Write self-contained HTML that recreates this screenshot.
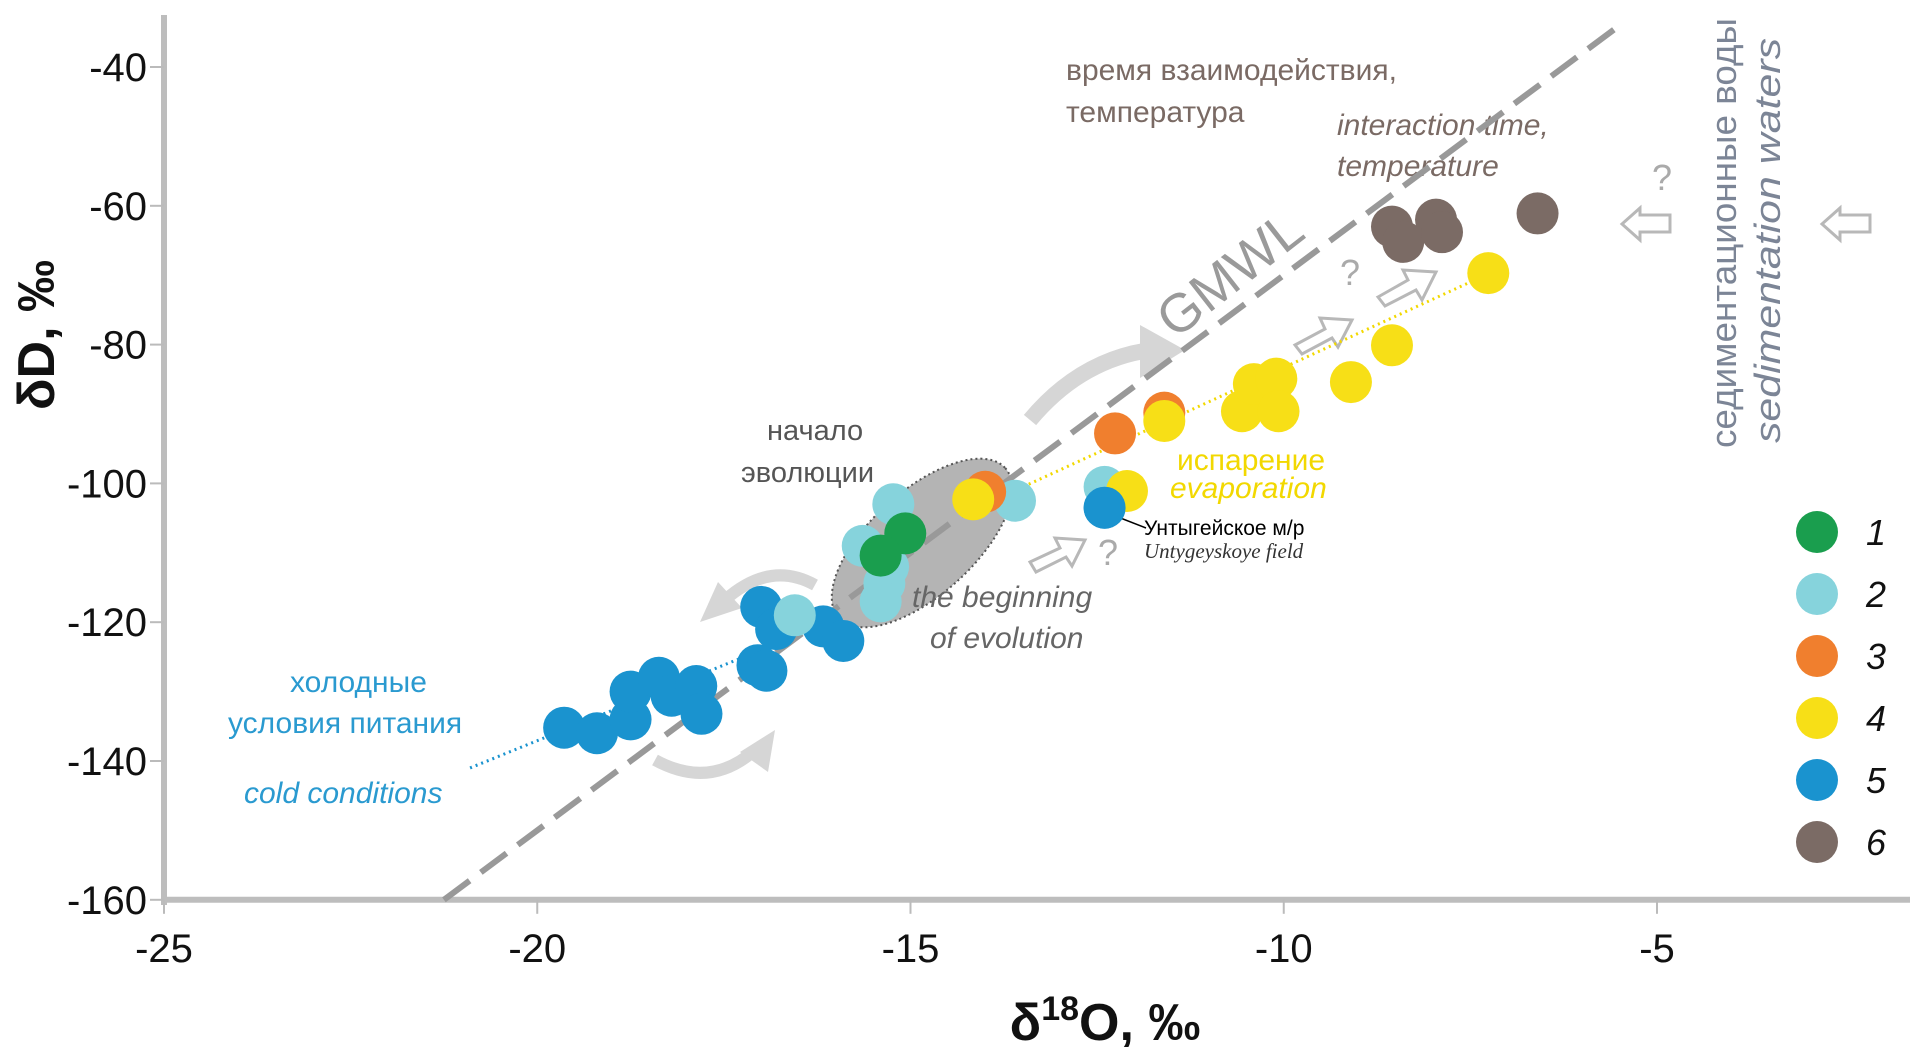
<!DOCTYPE html>
<html><head><meta charset="utf-8">
<style>
html,body{margin:0;padding:0;background:#fff;}
svg{display:block;font-family:"Liberation Sans",sans-serif;}
</style></head>
<body>
<svg id="chart" width="1910" height="1047" viewBox="0 0 1910 1047">
<g id="annot">
  <ellipse cx="922" cy="543" rx="112" ry="52" transform="rotate(-42 922 543)" fill="#b4b4b4" stroke="#555" stroke-width="2" stroke-dasharray="2 3"/>
  <path d="M1030,420 Q1080,360 1150,350" fill="none" stroke="#d6d6d6" stroke-width="16"/>
  <polygon points="1140,325 1185,350 1140,378" fill="#d6d6d6"/>
  <path d="M815,585 Q770,560 725,600" fill="none" stroke="#d6d6d6" stroke-width="12"/>
  <polygon points="700,622 718,582 742,608" fill="#d6d6d6"/>
  <path d="M655,760 Q710,790 755,750" fill="none" stroke="#d6d6d6" stroke-width="12"/>
  <polygon points="775,730 768,772 740,752" fill="#d6d6d6"/>
  <g fill="#fff" stroke="#b8b8b8" stroke-width="3">
    <polygon points="1030,562 1060,548 1055,538 1085,540 1072,566 1066,557 1036,572" />
    <polygon points="1295,345 1325,329 1320,318 1352,320 1338,347 1332,338 1302,354"/>
    <polygon points="1378,297 1408,280 1403,270 1436,272 1422,300 1416,290 1385,306"/>
    <polygon points="1670,215 1670,232 1640,232 1640,240 1622,224 1640,208 1640,215"/>
    <polygon points="1870,215 1870,232 1840,232 1840,240 1822,224 1840,208 1840,215"/>
  </g>
  <g fill="#aaa" font-size="36">
    <text x="1098" y="565">?</text>
    <text x="1340" y="285">?</text>
    <text x="1652" y="190">?</text>
  </g>
  <text x="1175" y="340" font-size="54" fill="#9a9a9a" transform="rotate(-38 1175 340)">GMWL</text>
  <g fill="#7a6a64" font-size="30">
    <text x="1066" y="80">время взаимодействия,</text>
    <text x="1066" y="122">температура</text>
    <text x="1337" y="135" font-style="italic">interaction time,</text>
    <text x="1337" y="176" font-style="italic">temperature</text>
  </g>
  <g fill="#7c8596" font-size="36">
    <text textLength="430" lengthAdjust="spacingAndGlyphs" transform="translate(1736,448) rotate(-90)">седиментационные воды</text>
    <text font-style="italic" textLength="405" lengthAdjust="spacingAndGlyphs" transform="translate(1780,443) rotate(-90)">sedimentation waters</text>
  </g>
  <g fill="#555" font-size="29">
    <text x="767" y="440">начало</text>
    <text x="741" y="482">эволюции</text>
  </g>
  <g fill="#666" font-size="30" font-style="italic">
    <text x="912" y="607">the beginning</text>
    <text x="930" y="648">of evolution</text>
  </g>
  <g fill="#f2d800" font-size="30">
    <text x="1177" y="470">испарение</text>
    <text x="1170" y="498" font-style="italic">evaporation</text>
  </g>
  <line x1="1105" y1="512" x2="1146" y2="528" stroke="#000" stroke-width="1.5"/>
  <text x="1144" y="535" font-size="21" fill="#000">Унтыгейское м/р</text>
  <text x="1144" y="558" font-size="21" fill="#333" font-style="italic" font-family="Liberation Serif,serif">Untygeyskoye field</text>
  <g fill="#2a9ad0" font-size="30">
    <text x="290" y="692">холодные</text>
    <text x="228" y="733">условия питания</text>
    <text x="244" y="803" font-style="italic">cold conditions</text>
  </g>
</g>
<g id="axes"></g>
<g id="lines"></g>
<g id="points"></g>
<g id="legend"></g>
</svg>
<script>
const xTicks = [-25, -20, -15, -10, -5];
const yTicks = [-40, -60, -80, -100, -120, -140, -160];
const groupNames = ['1','2','3','4','5','6'];
const groupColors = ['#1a9e4e','#86d3dc','#f07f2e','#f7df17','#1a93cf','#7b6b65'];
const g5x = [-19.64,-19.2,-18.75,-18.75,-18.37,-18.2,-17.87,-17.8,-17.0,-16.8,-17.05,-16.93,-16.17,-15.9,-12.4];
const g5y = [-135.2,-136,-134,-130,-128,-130.6,-129.2,-133.2,-117.8,-121,-126.2,-127,-120.6,-122.7,-103.5];
const g2x = [-16.55,-15.64,-15.3,-15.35,-15.4,-15.23,-13.6,-12.4];
const g2y = [-119,-109,-112,-114.4,-117,-103,-102.5,-100.5];
const g1x = [-15.07,-15.4];
const g1y = [-107.2,-110.4];
const g3x = [-14.0,-12.26,-11.6];
const g3y = [-101.2,-92.8,-89.8];
const g4x = [-14.16,-12.1,-11.6,-10.56,-10.4,-10.1,-10.07,-9.1,-8.55,-7.26];
const g4y = [-102.3,-101.1,-91,-89.6,-85.7,-84.9,-89.6,-85.4,-80.1,-69.7];
const g6x = [-8.55,-8.4,-7.96,-7.88,-6.6];
const g6y = [-63,-65.2,-62,-63.8,-61.1];
const gmwlX = [-21.25,-5.45];
const evapLineX = [-14.0,-7.3];
const evapLineY = [-103,-70];
const coldLineX = [-20.9,-17.0];
const coldLineY = [-141,-124];

const NS='http://www.w3.org/2000/svg';
function xs(v){return 164+(v+25)*74.65;}
function ys(v){return 67+(-40-v)*6.94;}
function mk(tag,attrs,parent){const e=document.createElementNS(NS,tag);for(const k in attrs)e.setAttribute(k,attrs[k]);parent.appendChild(e);return e;}
const axes=document.getElementById('axes');
let a=mk('line',{x1:164,y1:15,x2:164,y2:905,stroke:'#bdbdbd','stroke-width':6},axes);


a=mk('line',{x1:161,y1:ys(-160),x2:1910,y2:ys(-160),stroke:'#bdbdbd','stroke-width':6},axes);


yTicks.forEach(t=>{
  const l=mk('line',{x1:150,y1:ys(t),x2:164,y2:ys(t),stroke:'#bbb','stroke-width':2},axes);
  
  
  const tx=mk('text',{x:147,y:ys(t)+14,'text-anchor':'end','font-size':40,fill:'#111'},axes);
  
  
  tx.textContent=t;
});
xTicks.forEach(t=>{
  const l=mk('line',{x1:xs(t),y1:ys(-160),x2:xs(t),y2:ys(-160)+14,stroke:'#bbb','stroke-width':2},axes);
  
  
  const tx=mk('text',{x:xs(t),y:ys(-160)+62,'text-anchor':'middle','font-size':40,fill:'#111'},axes);
  
  
  tx.textContent=t;
});
let xt=mk('text',{x:1105,y:1040,'text-anchor':'middle','font-size':52,'font-weight':'bold',fill:'#111'},axes);


xt.innerHTML='δ<tspan dy="-20" font-size="34">18</tspan><tspan dy="20">O, ‰</tspan>';
let yt=mk('text',{x:0,y:0,'text-anchor':'middle','font-size':52,'font-weight':'bold',fill:'#111',transform:'translate(54,335) rotate(-90)'},axes);


yt.textContent='δD, ‰';

const lines=document.getElementById('lines');
let gm=mk('line',{x1:xs(gmwlX[0]),y1:ys(8*gmwlX[0]+10),x2:xs(gmwlX[1]),y2:ys(8*gmwlX[1]+10),stroke:'#999','stroke-width':6,'stroke-dasharray':'32 14'},lines);


let ev=mk('line',{x1:xs(evapLineX[0]),y1:ys(evapLineY[0]),x2:xs(evapLineX[1]),y2:ys(evapLineY[1]),stroke:'#f2d800','stroke-width':3,'stroke-dasharray':'2 4'},lines);


let cl=mk('line',{x1:xs(coldLineX[0]),y1:ys(coldLineY[0]),x2:xs(coldLineX[1]),y2:ys(coldLineY[1]),stroke:'#1a93cf','stroke-width':3,'stroke-dasharray':'2 4'},lines);



const pts=document.getElementById('points');
const order=[[g5x,g5y,4],[g2x,g2y,1],[g1x,g1y,0],[g3x,g3y,2],[g4x,g4y,3],[g6x,g6y,5]];
order.forEach(([gx,gy,gi])=>{
  gx.forEach((v,i)=>{
    const c=mk('circle',{cx:xs(v),cy:ys(gy[i]),r:21,fill:groupColors[gi]},pts);
    
    
  });
});
const ub=mk('circle',{cx:xs(g5x[14]),cy:ys(g5y[14]),r:21,fill:groupColors[4]},pts);



const leg=document.getElementById('legend');
groupNames.forEach((n,i)=>{
  const cy=532+i*62;
  const c=mk('circle',{cx:1817,cy:cy,r:21,fill:groupColors[i]},leg);
  
  
  const t=mk('text',{x:1866,y:cy+13,'font-size':36,'font-style':'italic',fill:'#111'},leg);
  
  
  t.textContent=n;
});
</script>
</body></html>
